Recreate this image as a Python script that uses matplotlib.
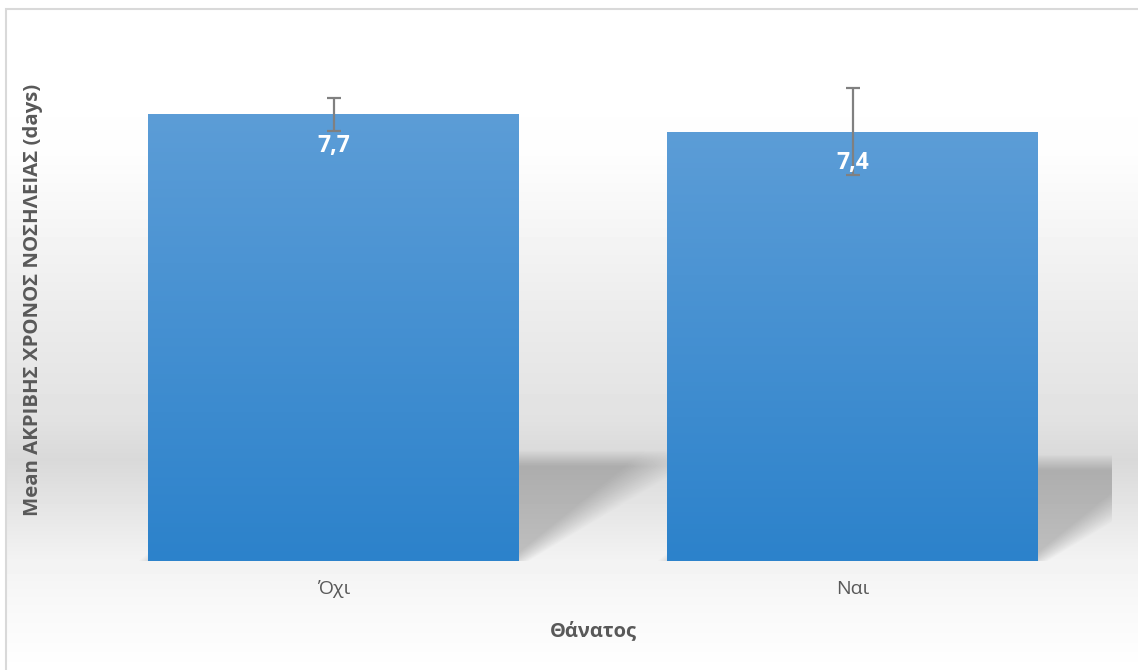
import matplotlib.pyplot as plt
import numpy as np
from matplotlib.colors import LinearSegmentedColormap
from matplotlib.patches import Rectangle

# mean length of stay by outcome
categories = ["Όχι", "Ναι"]
mean_days = [7.7, 7.4]
err_days = [0.28, 0.75]
value_labels = ["7,7", "7,4"]

W, H = 1138, 670
plt.rcParams['font.family'] = ['Open Sans', 'DejaVu Sans']
fig = plt.figure(figsize=(W / 100, H / 100), dpi=100)
fig.patch.set_facecolor('white')

bg_ax = fig.add_axes([0, 0, 1, 1], zorder=0)
bg_ax.set_axis_off()

ax = fig.add_axes([74 / W, 109 / H, 1038 / W, 522 / H], zorder=2)
ax.patch.set_alpha(0)
x = np.arange(len(categories))
ax.set_xlim(-0.5, len(categories) - 0.5)
ax.set_ylim(0, 9)

# ---- background: soft vertical gradient plus perspective bar shadows ----
rows = np.arange(H)  # display y (0 = bottom)
ytop = H - rows      # distance from top in px
knots_y = [0, 150, 300, 420, 460, 500, 560, 610, 660, 670]
knots_v = [1.0, 0.995, 0.93, 0.885, 0.85, 0.89, 0.95, 0.975, 0.995, 1.0]
col = np.interp(ytop, knots_y, knots_v)
bg = np.tile(col[:, None], (1, W))

XX, YY = np.meshgrid(np.arange(W) + 0.5, rows + 0.5)
shade = np.zeros_like(bg)
bar_w = 0.713
k = 1.45
ax_right = ax.transAxes.transform((1, 0))[0]
for xi, v in zip(x, mean_days):
    (x0, yb), (x1, yt) = ax.transData.transform([(xi - bar_w / 2, 0), (xi + bar_w / 2, v)])
    h = 0.23 * (yt - yb)
    dy = YY - yb
    a_top = np.clip((yb + h - YY) / 16 + 0.5, 0, 1)
    a_bot = (dy >= 0).astype(float)
    d_right = (x1 + k * dy - XX) / np.sqrt(1 + k * k)
    d_left = (XX - (x0 + k * dy)) / np.sqrt(1 + k * k)
    # edge softens further away from the bar foot
    soft = 12 + 0.25 * np.clip(dy, 0, None)
    a_r = np.clip(d_right / soft + 0.5, 0, 1)
    a_l = np.clip(d_left / soft + 0.5, 0, 1)
    a = a_top * a_bot * a_r * a_l * (XX <= ax_right)
    shade = np.maximum(shade, a)
bg = bg * (1 - 0.21 * shade)

# only inside the chart frame
frame_l, frame_t = 6, 9
bg[:, :frame_l] = 1.0
bg[H - frame_t:, :] = 1.0
bg_ax.imshow(bg, cmap='gray', vmin=0, vmax=1, origin='lower',
             extent=(0, W, 0, H), aspect='auto', interpolation='bilinear')
bg_ax.set_xlim(0, W)
bg_ax.set_ylim(0, H)
bg_ax.add_patch(Rectangle((frame_l, -10), W + 10, H - frame_t + 10,
                          fill=False, edgecolor='#d9d9d9', linewidth=1.5))

# ---- bars with vertical blue gradient ----
bar_cmap = LinearSegmentedColormap.from_list('bar', ['#2c82cb', '#5c9dd7'])
grad = np.linspace(0, 1, 256)[:, None]
bars = ax.bar(x, mean_days, width=bar_w, color='none', edgecolor='none', zorder=2)
for b, v in zip(bars, mean_days):
    im = ax.imshow(grad, cmap=bar_cmap, origin='lower', aspect='auto',
                   extent=(b.get_x(), b.get_x() + b.get_width(), 0, v), zorder=2)
    im.set_clip_path(b)

ax.errorbar(x, mean_days, yerr=err_days, fmt='none', ecolor='#808080',
            elinewidth=1.6, capsize=4.8, capthick=1.6, zorder=3)

for xi, v, lab in zip(x, mean_days, value_labels):
    ax.annotate(lab, (xi, v), xytext=(0, -22.5), textcoords='offset points',
                ha='center', va='center', color='white', fontsize=16.5,
                fontweight='bold', zorder=4)

ax.set_xlim(-0.5, len(categories) - 0.5)
ax.set_ylim(0, 9)
ax.set_xticks(x)
ax.set_xticklabels(categories, fontsize=14, color='#595959')
ax.tick_params(axis='x', length=0, pad=14)
ax.set_yticks([])
for s in ax.spines.values():
    s.set_visible(False)

ax.set_xlabel("Θάνατος", fontsize=14.5, fontweight='bold', color='#595959', labelpad=16)
fig.text(33 / W, 1 - 300 / H, "Mean ΑΚΡΙΒΗΣ ΧΡΟΝΟΣ ΝΟΣΗΛΕΙΑΣ (days)", rotation=90,
         ha='center', va='center', fontsize=14.7, fontweight='bold', color='#595959')

fig.savefig('out.png', dpi=100)
